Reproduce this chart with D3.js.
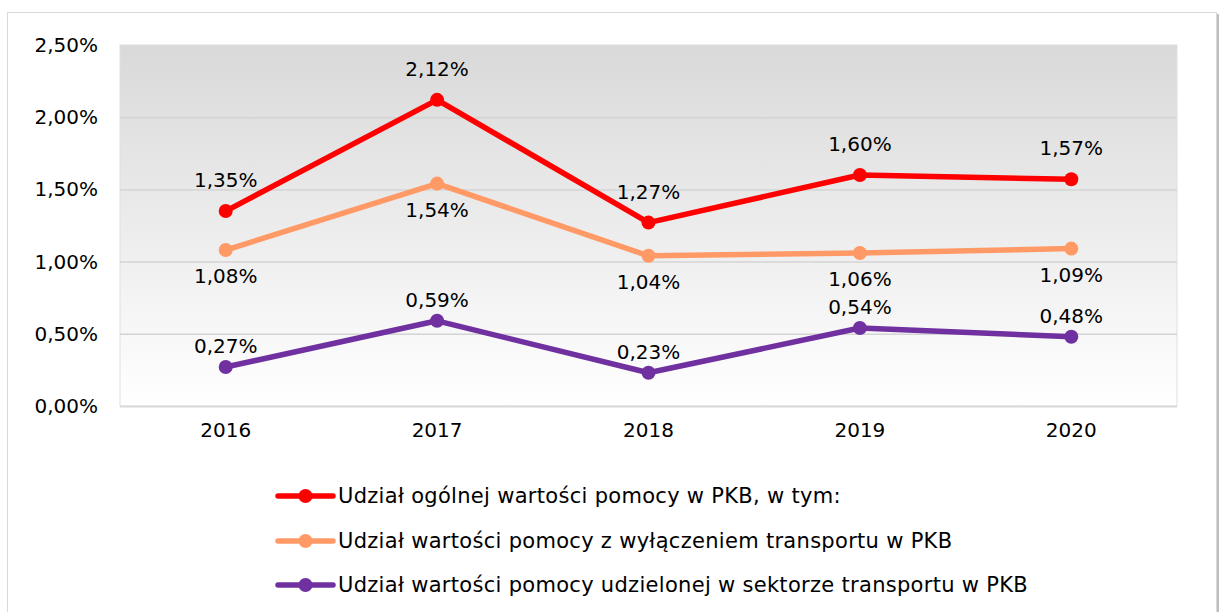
<!DOCTYPE html>
<html>
<head>
<meta charset="utf-8">
<script src="https://cdn.jsdelivr.net/npm/d3@7"></script>
<style>
  body { margin: 0; background: #fff; }
  text { font-family: "DejaVu Sans", sans-serif; fill: #000; }
</style>
</head>
<body>
<svg id="thesvg" width="1220" height="612"></svg>
<script>
var years = ["2016", "2017", "2018", "2019", "2020"];
var total = [1.35, 2.12, 1.27, 1.60, 1.57];
var noTransport = [1.08, 1.54, 1.04, 1.06, 1.09];
var transport = [0.27, 0.59, 0.23, 0.54, 0.48];
var yTicks = [0, 0.5, 1.0, 1.5, 2.0, 2.5];
var names = ["Udział ogólnej wartości pomocy w PKB, w tym:",
             "Udział wartości pomocy z wyłączeniem transportu w PKB",
             "Udział wartości pomocy udzielonej w sektorze transportu w PKB"];
var colors = ["#ff0000", "#ff9a66", "#7030a0"];

var series = [total, noTransport, transport];
// vertical offset of the value label from its point (negative = above)
var labelOffset = [-31, 26, -21];

var svg = d3.select("#thesvg");

var pLeft = 120, pRight = 1177, pTop = 45, pBottom = 406;
var fontSize = "20px";

var xScale = d3.scaleBand().domain(years).range([pLeft, pRight]);
var yScale = d3.scaleLinear().domain([0, 2.5]).range([pBottom, pTop]);

function fmt(v) {
    return v.toFixed(2).replace(".", ",") + "%";
}
function cx(i) {
    return xScale(years[i]) + xScale.bandwidth() / 2;
}

// outer frame with shadow
svg.append("rect")
    .attr("x", 9).attr("y", 14).attr("width", 1210).attr("height", 620)
    .attr("fill", "#bfbfbf");
svg.append("rect")
    .attr("x", 7.5).attr("y", 12.5).attr("width", 1209).attr("height", 620)
    .attr("fill", "#fff").attr("stroke", "#d9d9d9").attr("stroke-width", 1);

var defs = svg.append("defs");
var grad = defs.append("linearGradient")
    .attr("id", "bg").attr("x1", 0).attr("y1", 0).attr("x2", 0).attr("y2", 1);
grad.append("stop").attr("offset", "0%").attr("stop-color", "#d9d9d9");
grad.append("stop").attr("offset", "100%").attr("stop-color", "#ffffff");

svg.append("rect")
    .attr("x", pLeft).attr("y", pTop)
    .attr("width", pRight - pLeft).attr("height", pBottom - pTop)
    .attr("fill", "url(#bg)")
    .attr("stroke", "#e0e0e0");

// grid lines
svg.append("g")
    .selectAll("line")
    .data(yTicks.slice(1, -1))
    .enter().append("line")
    .attr("x1", pLeft).attr("x2", pRight)
    .attr("y1", d => yScale(d) + 0.5).attr("y2", d => yScale(d) + 0.5)
    .attr("stroke", "#d4d4d4").attr("stroke-width", 1.5);

svg.append("line")
    .attr("x1", pLeft).attr("x2", pRight)
    .attr("y1", pBottom + 0.5).attr("y2", pBottom + 0.5)
    .attr("stroke", "#d9d9d9").attr("stroke-width", 2);

// y axis
var yAxis = d3.axisLeft(yScale).tickValues(yTicks).tickSize(0).tickPadding(22).tickFormat(fmt);
var gy = svg.append("g").attr("transform", `translate(${pLeft}, 0)`).call(yAxis);
gy.select(".domain").remove();
gy.attr("font-family", null);
gy.selectAll("text").style("font-size", fontSize);

// x axis
var xAxis = d3.axisBottom(xScale).tickSize(0).tickPadding(17);
var gx = svg.append("g").attr("transform", `translate(0, ${pBottom})`).call(xAxis);
gx.select(".domain").remove();
gx.attr("font-family", null);
gx.selectAll("text").style("font-size", fontSize);

var line = d3.line()
    .x((d, i) => cx(i))
    .y(d => yScale(d));

for (let j = 0; j < series.length; j++) {
    svg.append("path")
        .datum(series[j])
        .attr("d", line)
        .attr("fill", "none")
        .attr("stroke", colors[j])
        .attr("stroke-width", 5.5)
        .attr("stroke-linejoin", "round");

    svg.append("g").selectAll("circle")
        .data(series[j])
        .enter().append("circle")
        .attr("cx", (d, i) => cx(i))
        .attr("cy", d => yScale(d))
        .attr("r", 7)
        .attr("fill", colors[j]);

    svg.append("g").selectAll("text")
        .data(series[j])
        .enter().append("text")
        .attr("x", (d, i) => cx(i))
        .attr("y", d => yScale(d) + labelOffset[j])
        .attr("dy", "0.35em")
        .attr("text-anchor", "middle")
        .style("font-size", fontSize)
        .text(fmt);
}

// legend
var legendY = [496, 541, 585];
for (let j = 0; j < names.length; j++) {
    var g = svg.append("g").attr("transform", `translate(278, ${legendY[j]})`);
    g.append("line")
        .attr("x1", 0).attr("x2", 55).attr("y1", 0).attr("y2", 0)
        .attr("stroke", colors[j]).attr("stroke-width", 5.5).attr("stroke-linecap", "round");
    g.append("circle").attr("cx", 27.5).attr("cy", 0).attr("r", 7).attr("fill", colors[j]);
    g.append("text")
        .attr("x", 60).attr("y", 0).attr("dy", "0.35em")
        .style("font-size", "21px")
        .style("letter-spacing", "0.3px")
        .text(names[j]);
}
</script>
</body>
</html>
